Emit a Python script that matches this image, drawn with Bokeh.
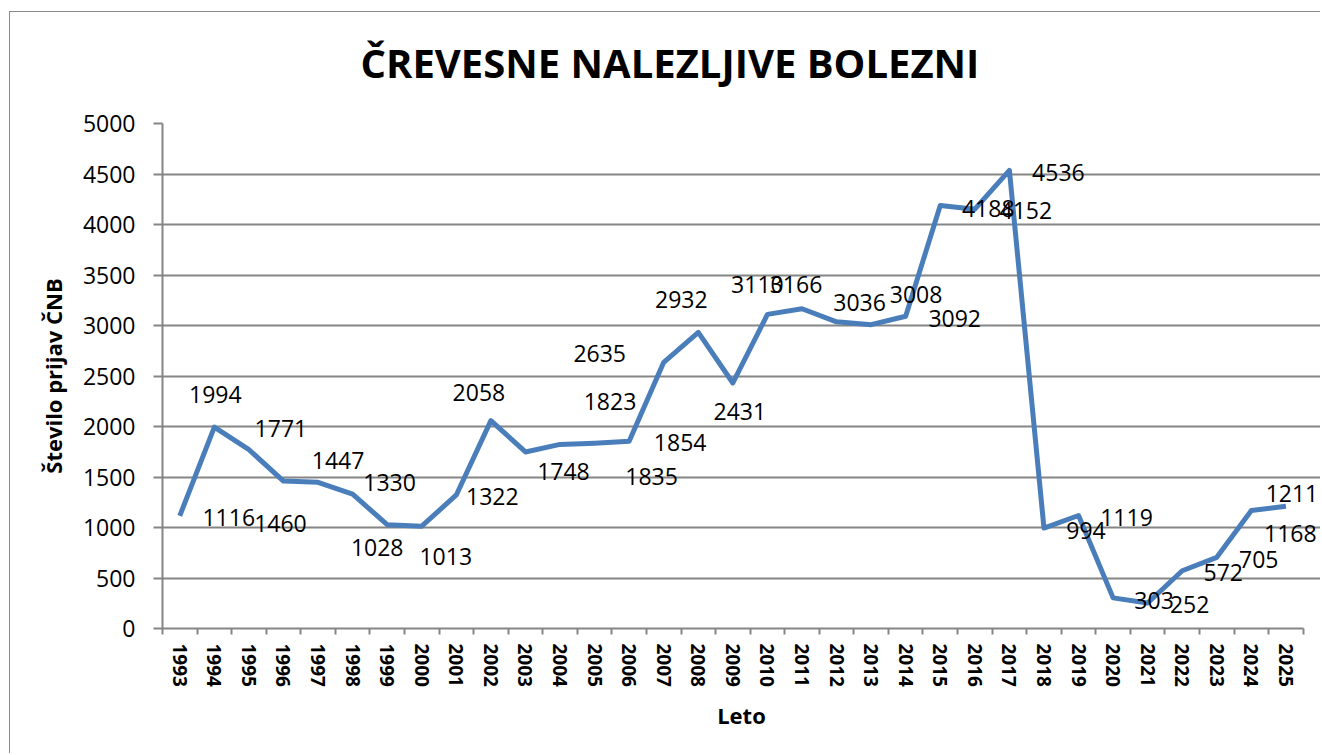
from bokeh.plotting import figure
from bokeh.models import Range1d, FixedTicker, ColumnDataSource, LabelSet
from bokeh.core.properties import value
from bokeh.embed import file_html
from bokeh.resources import INLINE

# ---- data ----
years = [str(y) for y in range(1993, 2026)]
cases = [1116, 1994, 1771, 1460, 1447, 1330, 1028, 1013, 1322, 2058,
         1748, 1823, 1835, 1854, 2635, 2932, 2431, 3110, 3166, 3036,
         3008, 3092, 4188, 4152, 4536, 994, 1119, 303, 252, 572,
         705, 1168, 1211]
y_ticks = list(range(0, 5001, 500))

# label placement offsets (screen pixels, right / down), as placed in the original chart
label_dx = [49, 1, 32, -3, 20, 37, -10, 24, 36, -12, 38, 50, 57, 51, -64, -17, 7,
            -10, -6, 23, 45, 49, 48, 51, 49, 42, 48, 41, 42, 41, 42, 39, 6]
label_dy = [2, -33, -21, 42, -22, -12, 23, 30, 2, -28, 20, -43, 33, 1, -9, -33, 29,
            -30, -24, -19, -30, 2, 3, 1, 2, 2, 2, 3, 1, 2, 2, 23, -13]

n = len(years)
xpos = [i + 0.5 for i in range(n)]

src = ColumnDataSource(dict(x=xpos, y=cases, lab=[str(v) for v in cases],
                            dx=label_dx, dy=[-d for d in label_dy]))

GRAY = "#858585"
BORDER = "#8a8a8a"
EXTRA = 0.5  # room right of the last category so labels are not clipped

p = figure(width=1320, height=753, frame_width=round(1141 * (n + EXTRA) / n), frame_height=505,
           output_backend="svg", toolbar_location=None,
           x_range=Range1d(0, n + EXTRA), y_range=Range1d(0, 5000),
           min_border_left=162, min_border_right=0, min_border_top=123,
           min_border_bottom=125, title="ČREVESNE NALEZLJIVE BOLEZNI")
# chart-area border (left and top edges; right/bottom lie outside the window)
p.styles = {
    "background-color": "white",
    "background-image": f"linear-gradient({BORDER}, {BORDER}), linear-gradient({BORDER}, {BORDER})",
    "background-position": "9px 11px, 9px 11px",
    "background-size": "1px 100%, 100% 1px",
    "background-repeat": "no-repeat, no-repeat",
}

p.title.align = "left"
p.title.offset = 198
p.title.vertical_align = "top"
p.title.text_font = "Open Sans"
p.title.text_font_size = "40px"
p.title.text_font_style = "bold"
p.title.text_color = "black"
p.title.standoff = 64

p.outline_line_color = None
p.background_fill_color = "white"
p.border_fill_color = None

# grid
p.xgrid.grid_line_color = None
p.ygrid.grid_line_color = GRAY
p.ygrid.grid_line_width = 2
p.ygrid.ticker = FixedTicker(ticks=y_ticks)
p.ygrid.bounds = (0, n)

# y axis
p.yaxis.ticker = FixedTicker(ticks=y_ticks)
p.yaxis.axis_line_color = GRAY
p.yaxis.axis_line_width = 2
p.yaxis.major_tick_line_color = GRAY
p.yaxis.major_tick_line_width = 2
p.yaxis.major_tick_out = 9
p.yaxis.major_tick_in = 0
p.yaxis.minor_tick_line_color = None
p.yaxis.major_label_text_font = "Open Sans"
p.yaxis.major_label_text_font_size = "23px"
p.yaxis.major_label_text_color = "black"
p.yaxis.major_label_standoff = 18
p.yaxis.axis_label = "Število prijav ČNB"
p.yaxis.axis_label_text_font = "Open Sans"
p.yaxis.axis_label_text_font_size = "22px"
p.yaxis.axis_label_text_font_style = "bold"
p.yaxis.axis_label_text_color = "black"
p.yaxis.axis_label_standoff = 12

# x axis: labels at category centres, tick marks at category boundaries
p.xaxis.bounds = (0, n)
p.xaxis.ticker = FixedTicker(ticks=xpos, minor_ticks=list(range(n + 1)))
p.xaxis.major_label_overrides = {x: yr for x, yr in zip(xpos, years)}
p.xaxis.major_label_orientation = "vertical"
p.xaxis.major_tick_line_color = None
p.xaxis.major_tick_out = 0
p.xaxis.major_tick_in = 0
p.xaxis.minor_tick_line_color = GRAY
p.xaxis.minor_tick_line_width = 2
p.xaxis.minor_tick_out = 6
p.xaxis.minor_tick_in = 0
p.xaxis.axis_line_color = GRAY
p.xaxis.axis_line_width = 2
p.xaxis.major_label_text_font = "Open Sans"
p.xaxis.major_label_text_font_size = "19px"
p.xaxis.major_label_text_font_style = "bold"
p.xaxis.major_label_text_color = "black"
p.xaxis.major_label_standoff = 9
p.xaxis.axis_label = "Leto"
p.xaxis.axis_label_text_font = "Open Sans"
p.xaxis.axis_label_text_font_size = "22px"
p.xaxis.axis_label_text_font_style = "bold"
p.xaxis.axis_label_text_color = "black"
p.xaxis.axis_label_standoff = 10

# series
p.line("x", "y", source=src, line_color="#4A7EBB", line_width=5, line_join="round")

labels = LabelSet(x="x", y="y", text="lab", source=src, x_offset="dx", y_offset="dy",
                  text_font=value("Open Sans"), text_font_size=value("23px"),
                  text_color="black", text_align="center", text_baseline="middle")
p.add_layout(labels)

open("out.html", "w").write(file_html(p, INLINE))
